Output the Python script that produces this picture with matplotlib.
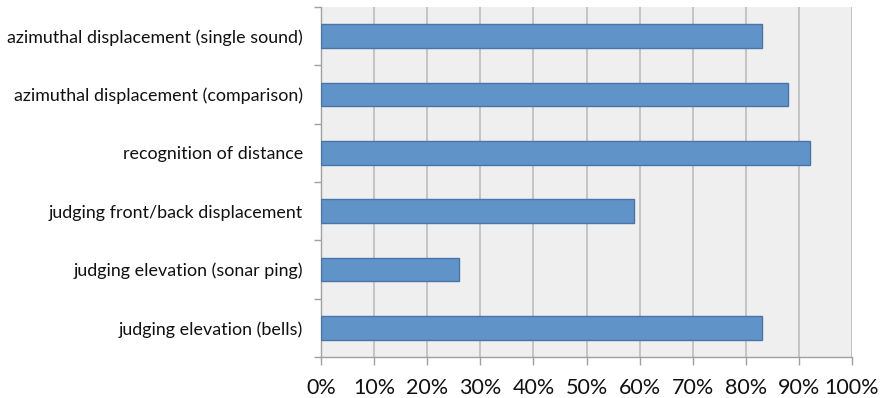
import matplotlib
matplotlib.use("Agg")
import matplotlib.pyplot as plt
from matplotlib.ticker import FixedLocator, PercentFormatter

categories = [
    "azimuthal displacement (single sound)",
    "azimuthal displacement (comparison)",
    "recognition of distance",
    "judging front/back displacement",
    "judging elevation (sonar ping)",
    "judging elevation (bells)",
]
values = [83, 88, 92, 59, 26, 83]
x_ticks = [0, 10, 20, 30, 40, 50, 60, 70, 80, 90, 100]

plt.rcParams["font.family"] = ["Lato", "DejaVu Sans"]

fig = plt.figure(figsize=(8.8, 3.98), dpi=100)
ax = fig.add_axes([321 / 880, 1 - 357 / 398, (852 - 321) / 880, (357 - 7) / 398])

n = len(categories)
ypos = list(range(n - 1, -1, -1))
ax.barh(ypos, values, height=0.41, color="#6094C8", edgecolor="#4A74A8",
        linewidth=1.0, zorder=3)

ax.set_xlim(0, 100)
ax.set_ylim(-0.5, n - 0.5)
ax.set_facecolor("#EFEFEF")

ax.xaxis.set_major_locator(FixedLocator(x_ticks))
ax.xaxis.set_major_formatter(PercentFormatter(decimals=0))
ax.grid(axis="x", color="#BDBDBD", linewidth=1.2, zorder=0)

ax.set_yticks(ypos)
ax.set_yticklabels(categories, fontsize=12.9, color="#111111")
ax.yaxis.set_minor_locator(FixedLocator([i - 0.5 for i in range(n + 1)]))
ax.tick_params(axis="y", which="major", length=0, pad=13)
ax.tick_params(axis="y", which="minor", length=5, width=1.0, color="#A0A0A0")
ax.tick_params(axis="x", length=6, width=1.0, color="#A0A0A0",
               labelsize=15.5, labelcolor="#111111", pad=9)

for side in ("top", "right"):
    ax.spines[side].set_visible(False)
for side in ("left", "bottom"):
    ax.spines[side].set_color("#A0A0A0")
    ax.spines[side].set_linewidth(1.0)

fig.savefig("out.png", dpi=100)
